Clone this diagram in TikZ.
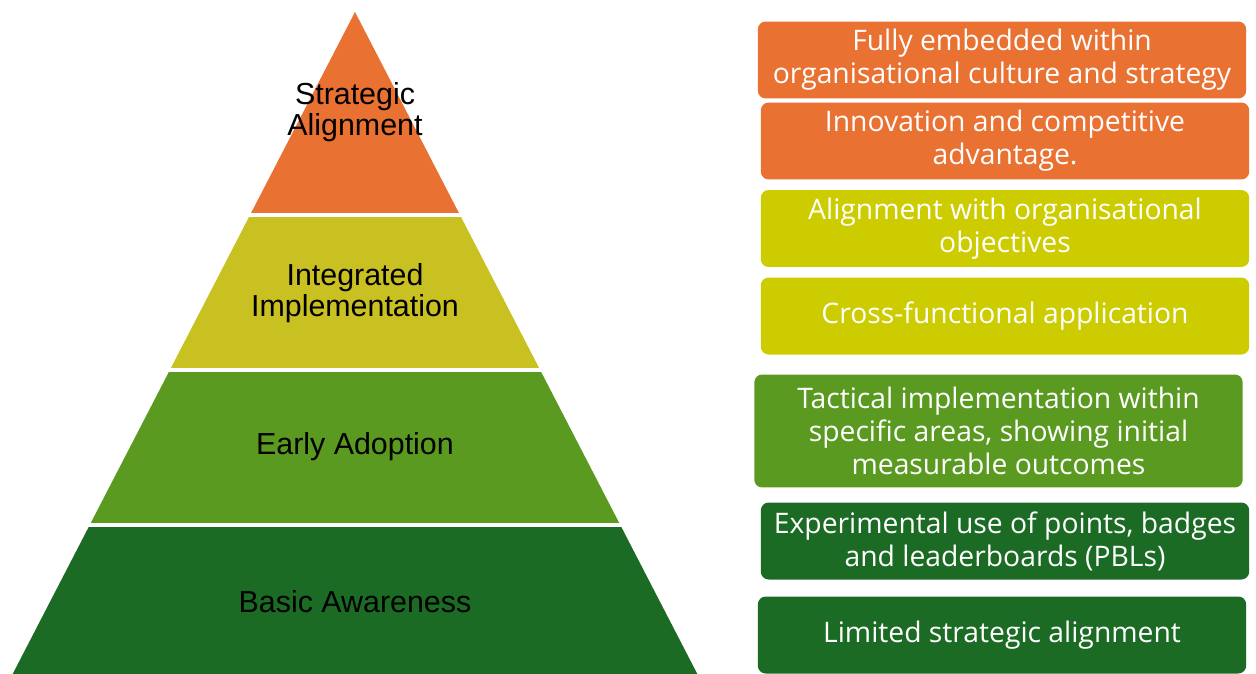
\documentclass[tikz,border=0pt]{standalone}
\usepackage{fontspec}
\setmainfont{Liberation Sans}
\newfontfamily\boxfont{Open Sans}
\usetikzlibrary{positioning}

\definecolor{tierorange}{HTML}{E97132}
\definecolor{tieryellow}{HTML}{C9C021}
\definecolor{boxyellow}{HTML}{CCCC00}
\definecolor{tiergreen}{HTML}{5A9A20}
\definecolor{tierdark}{HTML}{1B6B25}

\tikzstyle{tierlabel}=[
        text=black,
        align=center,
        inner sep=0pt,
        font=\fontsize{17.3}{17.6}\selectfont
]
\tikzstyle{point}=[
        rectangle,
        rounded corners=4.5pt,
        text=white,
        align=center,
        inner sep=0pt,
        minimum width=9.77cm,
        minimum height=1.54cm,
        font=\boxfont\fontsize{16.1}{18.8}\selectfont
]

\begin{document}
\begin{tikzpicture}[x=0.02cm,y=-0.02cm]
\useasboundingbox (0,0) rectangle (1256,673);

%pyramid bands, cut out of one triangle
\begin{scope}
\clip (355,12) -- (8,683) -- (702,683) -- cycle;
\fill[tierorange] (0,0) rectangle (720,213);
\fill[tieryellow] (0,217) rectangle (720,368);
\fill[tiergreen] (0,372) rectangle (720,523);
\fill[tierdark] (0,527) rectangle (720,690);
\end{scope}

\node[tierlabel] (sa) at (355,112) {Strategic\\Alignment};
\node[tierlabel] (ii) at (355,293) {Integrated\\Implementation};
\node[tierlabel] (ea) at (355,447) {Early Adoption};
\node[tierlabel] (ba) at (355,602) {Basic Awareness};

%descriptions on the right
\node[point,fill=tierorange] (p1) at (1002,60) {Fully embedded within\\organisational culture and strategy};
\node[point,fill=tierorange] (p2) at (1005,141) {Innovation and competitive\\advantage.};
\node[point,fill=boxyellow] (p3) at (1005,228.5) {Alignment with organisational\\objectives};
\node[point,fill=boxyellow] (p4) at (1005,316) {Cross-functional application};
\node[point,fill=tiergreen,minimum height=2.26cm] (p5) at (998.5,431) {Tactical implementation within\\specific areas, showing initial\\measurable outcomes};
\node[point,fill=tierdark] (p6) at (1005,541) {Experimental use of points, badges\\and leaderboards (PBLs)};
\node[point,fill=tierdark] (p7) at (1002,635) {Limited strategic alignment};

\end{tikzpicture}
\end{document}
